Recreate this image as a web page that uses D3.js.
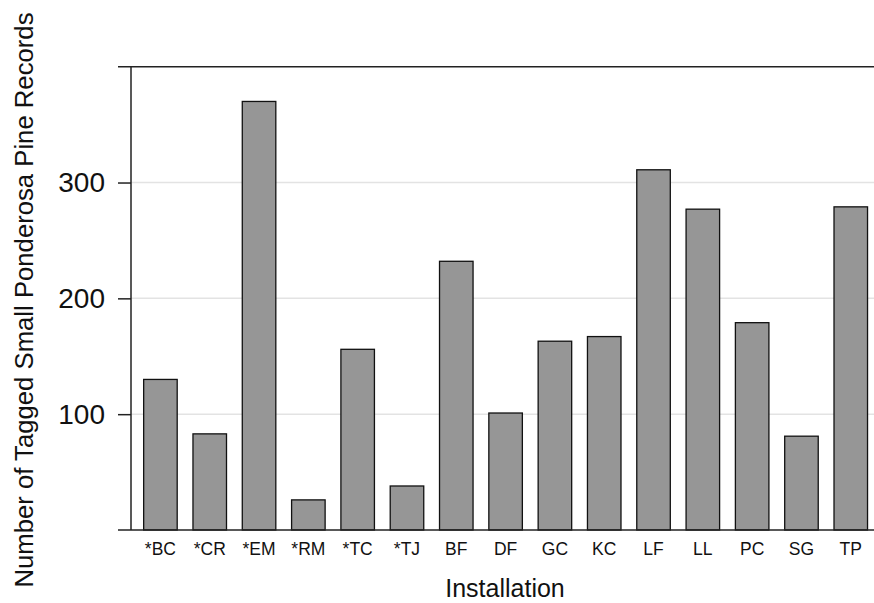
<!DOCTYPE html>
<html>
<head>
<meta charset="utf-8">
<script src="https://cdn.jsdelivr.net/npm/d3@7"></script>
<style>
  html, body { margin: 0; padding: 0; background: #fff; }
  svg { display: block; font-family: "Liberation Sans", Arial, Helvetica, sans-serif; }
</style>
</head>
<body>
<svg id="chart" width="874" height="603"></svg>
<script>
// ---- data ----
const installations = ["*BC", "*CR", "*EM", "*RM", "*TC", "*TJ", "BF", "DF", "GC", "KC", "LF", "LL", "PC", "SG", "TP"];
const recordCounts = [130, 83, 370, 26, 156, 38, 232, 101, 163, 167, 311, 277, 179, 81, 279];
const yTickValues = [100, 200, 300];
const yDomain = [0, 400];
const xTitle = "Installation";
const yTitle = "Number of Tagged Small Ponderosa Pine Records";

// ---- layout ----
const W = 874, H = 603;
const axisX = 131, tickLen = 13;
const plotTop = 66.7, plotBottom = 530;

const svg = d3.select("#chart");

const x = d3.scaleBand()
  .domain(installations)
  .range([133.8, 877.4])
  .paddingInner(0.32)
  .paddingOuter(0.2);

const y = d3.scaleLinear()
  .domain(yDomain)
  .range([plotBottom, plotTop]);

// gridlines
svg.append("g")
  .selectAll("line")
  .data(yTickValues)
  .join("line")
  .attr("x1", axisX).attr("x2", W)
  .attr("y1", d => y(d)).attr("y2", d => y(d))
  .attr("stroke", "#e3e3e3")
  .attr("stroke-width", 1.5);

// bars
svg.append("g")
  .selectAll("rect")
  .data(installations.map((k, i) => ({ k, v: recordCounts[i] })))
  .join("rect")
  .attr("x", d => x(d.k))
  .attr("width", x.bandwidth())
  .attr("y", d => y(d.v))
  .attr("height", d => y(0) - y(d.v))
  .attr("fill", "#969696")
  .attr("stroke", "#111")
  .attr("stroke-width", 1.3);

// top and bottom horizontal lines
svg.append("g")
  .selectAll("line")
  .data(yDomain)
  .join("line")
  .attr("x1", axisX - tickLen).attr("x2", W)
  .attr("y1", d => y(d)).attr("y2", d => y(d))
  .attr("stroke", "#222")
  .attr("stroke-width", 1.5);

// y axis
const yAxis = d3.axisLeft(y)
  .tickValues(yTickValues)
  .tickSize(tickLen)
  .tickPadding(13)
  .tickFormat(d3.format("d"));

const gy = svg.append("g")
  .attr("transform", `translate(${axisX},0)`)
  .call(yAxis);
gy.select(".domain").attr("stroke", "#222").attr("stroke-width", 1.5)
  .attr("d", `M0,${plotTop}V${plotBottom}`);
gy.selectAll(".tick line").attr("stroke", "#222").attr("stroke-width", 1.5);
gy.selectAll(".tick text")
  .attr("font-size", 28)
  .attr("fill", "#111")
  .attr("font-family", "Liberation Sans, Arial, sans-serif");

// x axis labels
const xAxis = d3.axisBottom(x).tickSize(0).tickPadding(13);
const gx = svg.append("g")
  .attr("transform", `translate(0,${plotBottom})`)
  .call(xAxis);
gx.select(".domain").remove();
gx.selectAll(".tick text")
  .attr("font-size", 17.5)
  .attr("fill", "#111")
  .attr("font-family", "Liberation Sans, Arial, sans-serif");

// axis titles
svg.append("text")
  .attr("x", 505)
  .attr("y", 597)
  .attr("text-anchor", "middle")
  .attr("font-size", 25)
  .attr("fill", "#111")
  .text(xTitle);

svg.append("text")
  .attr("transform", `translate(33,300) rotate(-90)`)
  .attr("text-anchor", "middle")
  .attr("font-size", 25.7)
  .attr("fill", "#111")
  .text(yTitle);
</script>
</body>
</html>
